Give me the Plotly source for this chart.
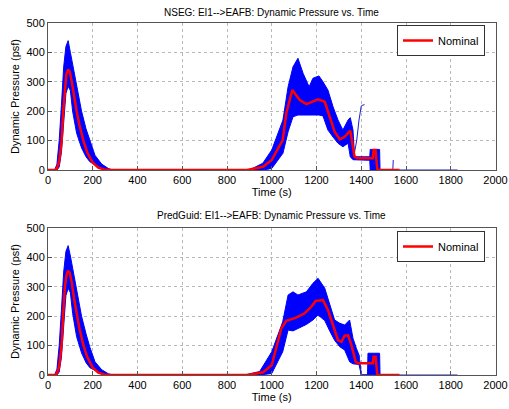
import plotly.graph_objects as go

# ---------------- data: NSEG panel ----------------
t_env1 = [0, 30, 40, 50, 60, 70, 80, 90, 100, 110, 128, 150, 170, 187, 210, 240, 270, 290,
          900, 960, 1000, 1050, 1073, 1095, 1117, 1140, 1167, 1184, 1211, 1229, 1251, 1274,
          1296, 1318, 1341, 1351, 1363, 1370, 1380, 1438, 1440, 1482, 1484, 1490]
upper1 = [0, 0, 20, 100, 220, 350, 420, 440, 400, 360, 300, 200, 140, 100, 50, 20, 5, 0,
          0, 23, 68, 170, 283, 351, 380, 329, 283, 312, 320, 300, 272, 215,
          170, 136, 170, 178, 136, 48, 45, 45, 70, 70, 0, 0]
lower1 = [0, 0, 0, 10, 60, 170, 260, 285, 270, 200, 125, 75, 45, 28, 18, 5, 0, 0,
          0, 0, 5, 57, 130, 181, 187, 187, 187, 187, 187, 184, 136, 112,
          91, 79, 91, 45, 35, 33, 33, 33, 0, 0, 0, 0]
t_nom1 = [0, 30, 40, 50, 55, 61, 68, 75, 82, 90, 97, 106, 116, 128, 140, 158, 175, 200,
          225, 250, 280, 890, 961, 1000, 1049, 1065, 1092, 1125, 1155, 1207, 1237, 1259,
          1281, 1304, 1326, 1351, 1370, 1385, 1452, 1455, 1464, 1467, 1472, 1571]
nom1 = [0, 0, 5, 30, 60, 100, 200, 280, 325, 342, 335, 300, 250, 200, 155, 100, 60, 25,
        8, 2, 0, 0, 11, 34, 102, 193, 272, 238, 224, 240, 232, 181,
        130, 104, 113, 134, 45, 40, 40, 68, 68, 40, 0, 0]
stray1_t = [1370, 1380, 1390, 1400, 1408, 1415]
stray1_v = [60, 102, 170, 218, 221, 222]
stray1b_t = [1541, 1543]
stray1b_v = [0, 34]
base1_t = [1480, 1830]
base1_v = [0, 0]

# ---------------- data: PredGuid panel ----------------
t_env2 = [0, 30, 40, 50, 60, 70, 80, 90, 100, 110, 128, 150, 170, 187, 210, 240, 270, 290,
          880, 946, 1000, 1049, 1073, 1095, 1117, 1155, 1184, 1207, 1237, 1259, 1281, 1304,
          1326, 1348, 1363, 1378, 1390, 1400, 1428, 1430, 1482, 1484, 1490]
upper2 = [0, 0, 20, 100, 220, 350, 420, 440, 405, 365, 300, 200, 140, 95, 45, 18, 4, 0,
          0, 12, 79, 181, 272, 283, 272, 283, 312, 329, 295, 244, 187, 176,
          170, 187, 125, 91, 68, 0, 0, 74, 74, 0, 0]
lower2 = [0, 0, 0, 10, 60, 175, 270, 295, 280, 210, 130, 75, 42, 25, 15, 4, 0, 0,
          0, 0, 5, 79, 153, 150, 158, 172, 187, 204, 185, 150, 118, 96,
          85, 45, 38, 36, 36, 0, 0, 0, 0, 0, 0]
t_nom2 = [0, 30, 40, 50, 55, 61, 68, 75, 82, 90, 97, 106, 116, 128, 140, 158, 175, 200,
          225, 250, 280, 890, 961, 1000, 1021, 1043, 1065, 1109, 1147, 1177, 1196, 1229,
          1251, 1274, 1296, 1311, 1326, 1341, 1356, 1375, 1385, 1452, 1455, 1464, 1467,
          1472, 1571]
nom2 = [0, 0, 5, 30, 62, 105, 210, 295, 338, 355, 348, 315, 262, 210, 160, 102, 62, 25,
        8, 2, 0, 0, 9, 34, 91, 159, 184, 195, 210, 232, 252, 255,
        221, 170, 119, 113, 134, 135, 102, 45, 40, 40, 62, 62, 40,
        0, 0]
stray2_t = [1390, 1395, 1400]
stray2_v = [68, 30, 0]
base2_t = [1400, 1830]
base2_v = [0, 0]

titles = ["NSEG: EI1-->EAFB: Dynamic Pressure vs. Time",
          "PredGuid: EI1-->EAFB: Dynamic Pressure vs. Time"]
x_ticks = list(range(0, 2001, 200))
y_ticks = list(range(0, 501, 100))

BLUE = "#0000ff"
RED = "#ff0000"
FONT = "Liberation Sans, Arial, sans-serif"

fig = go.Figure()

panels = [
    (t_env1, upper1, lower1, t_nom1, nom1,
     [(stray1_t, stray1_v), (stray1b_t, stray1b_v), (base1_t, base1_v)], "x", "y", "legend"),
    (t_env2, upper2, lower2, t_nom2, nom2,
     [(stray2_t, stray2_v), (base2_t, base2_v)], "x2", "y2", "legend2"),
]

for t_env, up, lo, t_nom, nom, extras, xa, ya, lg in panels:
    fig.add_trace(go.Scatter(
        x=list(t_env) + list(t_env)[::-1], y=list(up) + list(lo)[::-1],
        fill="toself", fillcolor=BLUE, mode="lines",
        line=dict(color=BLUE, width=1), showlegend=False, hoverinfo="skip",
        xaxis=xa, yaxis=ya))
    for ex_t, ex_v in extras:
        fig.add_trace(go.Scatter(x=ex_t, y=ex_v, mode="lines",
                                 line=dict(color="#2020d0", width=1), showlegend=False,
                                 xaxis=xa, yaxis=ya))
    fig.add_trace(go.Scatter(x=t_nom, y=nom, mode="lines", name="Nominal",
                             line=dict(color=RED, width=2.5), legend=lg,
                             xaxis=xa, yaxis=ya))

W, H = 509, 409


def px_x(px):
    return px / W


def px_y(py):
    return 1 - py / H


xdom = [px_x(48), px_x(495.5)]
ydom1 = [px_y(170), px_y(23)]
ydom2 = [px_y(375), px_y(228)]

axis_common = dict(showline=True, linecolor="#555555", linewidth=1, mirror=True,
                   ticks="inside", ticklen=4, tickcolor="#555555", automargin=False,
                   showgrid=True, gridcolor="#b8b8b8", griddash="dot", gridwidth=1,
                   zeroline=False, tickfont=dict(size=11, color="black", family=FONT))

xa_common = dict(axis_common, range=[0, 2000], tickvals=x_ticks,
                 title=dict(text="Time (s)", font=dict(size=11, color="black", family=FONT), standoff=2))
ya_common = dict(axis_common, range=[0, 500], tickvals=y_ticks,
                 title=dict(text="Dynamic Pressure (psf)", font=dict(size=11, color="black", family=FONT), standoff=4))

legend_common = dict(bgcolor="white", bordercolor="#333333", borderwidth=1,
                     font=dict(size=11, color="black", family=FONT),
                     xanchor="right", yanchor="top", x=px_x(485))

fig.update_layout(
    width=W, height=H,
    margin=dict(l=0, r=0, t=0, b=0),
    paper_bgcolor="white", plot_bgcolor="white",
    font=dict(family=FONT, color="black"),
    xaxis=dict(xa_common, domain=xdom, anchor="y"),
    yaxis=dict(ya_common, domain=ydom1, anchor="x"),
    xaxis2=dict(xa_common, domain=xdom, anchor="y2"),
    yaxis2=dict(ya_common, domain=ydom2, anchor="x2"),
    legend=dict(legend_common, y=px_y(25)),
    legend2=dict(legend_common, y=px_y(231)),
    annotations=[
        dict(text=titles[0], x=0.5 * (xdom[0] + xdom[1]), y=px_y(12), xref="paper", yref="paper",
             showarrow=False, font=dict(size=10, color="black", family=FONT), yanchor="middle"),
        dict(text=titles[1], x=0.5 * (xdom[0] + xdom[1]), y=px_y(215), xref="paper", yref="paper",
             showarrow=False, font=dict(size=10, color="black", family=FONT), yanchor="middle"),
    ],
)

# remove the browser's default 8px body margin so the figure fills the window exactly
fig.write_html("out.html",
               config={"displayModeBar": False},
               post_script="document.body.style.margin='0px';document.body.style.overflow='hidden';")
